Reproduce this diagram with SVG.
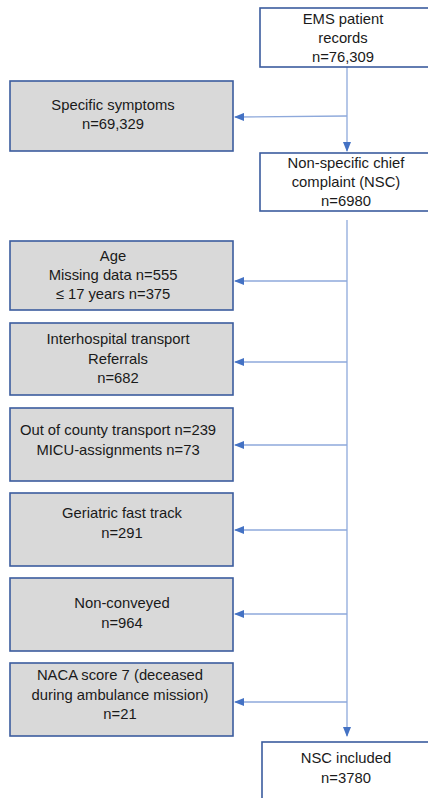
<svg xmlns="http://www.w3.org/2000/svg" width="428" height="798" viewBox="0 0 428 798">
<defs>
<style>
.box{stroke:#3B5C9E;stroke-width:1.6}
.g{fill:#D9D9D9}
.w{fill:#FFFFFF}
text{font-family:"Liberation Sans",Arial,sans-serif;font-size:14.8px;fill:#1a1a1a;text-anchor:middle}
.ln{stroke:#8EA9DB;stroke-width:1.3;fill:none}
</style>
<marker id="ah" markerWidth="10" markerHeight="8" refX="9" refY="4" orient="auto" markerUnits="userSpaceOnUse">
<path d="M0,0 L10,4 L0,8 Z" fill="#4472C4"/>
</marker>
</defs>
<rect width="428" height="798" fill="#FFFFFF"/>
<g id="connectors">
<line class="ln" x1="347" y1="67" x2="347" y2="151" marker-end="url(#ah)"/>
<line class="ln" x1="347" y1="116" x2="235" y2="117" marker-end="url(#ah)"/>
<line class="ln" x1="347" y1="220" x2="347" y2="736" marker-end="url(#ah)"/>
<line class="ln" x1="347" y1="281" x2="235" y2="281" marker-end="url(#ah)"/>
<line class="ln" x1="347" y1="362" x2="235" y2="362" marker-end="url(#ah)"/>
<line class="ln" x1="347" y1="445" x2="235" y2="445" marker-end="url(#ah)"/>
<line class="ln" x1="347" y1="530" x2="235" y2="530" marker-end="url(#ah)"/>
<line class="ln" x1="347" y1="614" x2="235" y2="614" marker-end="url(#ah)"/>
<line class="ln" x1="347" y1="702" x2="235" y2="702" marker-end="url(#ah)"/>
</g>
<g id="ems">
<rect class="box w" x="260" y="8" width="170" height="59"/>
<text x="343" y="24">EMS patient</text>
<text x="343" y="43">records</text>
<text x="343" y="62">n=76,309</text>
</g>
<g id="specific">
<rect class="box g" x="10" y="81" width="223" height="70"/>
<text x="113" y="110">Specific symptoms</text>
<text x="113" y="129">n=69,329</text>
</g>
<g id="nsc">
<rect class="box w" x="260" y="153" width="170" height="58"/>
<text x="346" y="168">Non-specific chief</text>
<text x="346" y="187">complaint (NSC)</text>
<text x="346" y="206">n=6980</text>
</g>
<g id="age">
<rect class="box g" x="10" y="241" width="223" height="69"/>
<text x="113" y="261">Age</text>
<text x="113" y="280">Missing data n=555</text>
<text x="113" y="299">≤ 17 years n=375</text>
</g>
<g id="interhospital">
<rect class="box g" x="10" y="323" width="223" height="72"/>
<text x="118" y="344">Interhospital transport</text>
<text x="118" y="364">Referrals</text>
<text x="118" y="383">n=682</text>
</g>
<g id="county">
<rect class="box g" x="10" y="408" width="223" height="73"/>
<text x="118" y="435">Out of county transport n=239</text>
<text x="118" y="455">MICU-assignments n=73</text>
</g>
<g id="geriatric">
<rect class="box g" x="10" y="493" width="223" height="73"/>
<text x="122" y="518">Geriatric fast track</text>
<text x="122" y="538">n=291</text>
</g>
<g id="nonconveyed">
<rect class="box g" x="10" y="578" width="223" height="73"/>
<text x="122" y="608">Non-conveyed</text>
<text x="122" y="628">n=964</text>
</g>
<g id="naca">
<rect class="box g" x="10" y="663" width="223" height="73"/>
<text x="120" y="680">NACA score 7 (deceased</text>
<text x="120" y="700">during ambulance mission)</text>
<text x="120" y="719">n=21</text>
</g>
<g id="included">
<rect class="box w" x="262" y="742" width="170" height="70"/>
<text x="346" y="763">NSC included</text>
<text x="346" y="783">n=3780</text>
</g>
</svg>
